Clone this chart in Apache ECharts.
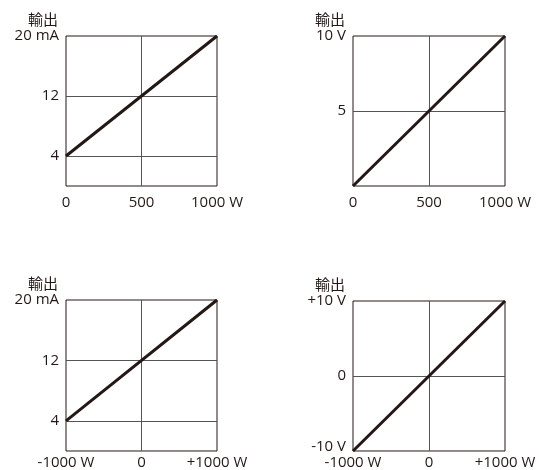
<!DOCTYPE html>
<html>
<head>
<meta charset="utf-8">
<script src="https://cdn.jsdelivr.net/npm/echarts@6/dist/echarts.min.js"></script>
<style>html,body{margin:0;padding:0;background:#fff}#c{width:539px;height:470px}</style>
</head>
<body>
<div id="c"></div>
<script>
// ---- data ----
var yName = '輸出';
// chart 1: 0..1000 W -> 4..20 mA
var line1 = [[0, 4], [1000, 20]];
var xLabels1 = {0: '0', 500: '500', 1000: '1000 W'};
var yLabels1 = {4: '4', 12: '12', 20: '20 mA'};
var yGrid1 = [4, 12];
var xGrid1 = [500];
// chart 2: 0..1000 W -> 0..10 V
var line2 = [[0, 0], [1000, 10]];
var xLabels2 = {0: '0', 500: '500', 1000: '1000 W'};
var yLabels2 = {5: '5', 10: '10 V'};
var yGrid2 = [5];
var xGrid2 = [500];
// chart 3: -1000..+1000 W -> 4..20 mA
var line3 = [[-1000, 4], [1000, 20]];
var xLabels3 = {'-1000': '-1000 W', 0: '0', 1000: '+1000 W'};
var yLabels3 = {4: '4', 12: '12', 20: '20 mA'};
var yGrid3 = [4, 12];
var xGrid3 = [0];
// chart 4: -1000..+1000 W -> -10..+10 V
var line4 = [[-1000, -10], [1000, 10]];
var xLabels4 = {'-1000': '-1000 W', 0: '0', 1000: '+1000 W'};
var yLabels4 = {'-10': '{lo|-10 V}', 0: '0', 10: '+10 V'};
var yGrid4 = [0];
var xGrid4 = [0];

var FONT = "'Open Sans', 'Noto Sans CJK JP', sans-serif";
var TXT = '#231815';
var FS = 15;

var panels = [
  {grid: {left: 66, top: 36, width: 151, height: 150}, x: [0, 1000, 500], y: [0, 20, 4], line: line1, xl: xLabels1, yl: yLabels1, yg: yGrid1, xg: xGrid1, xm: 9},
  {grid: {left: 353, top: 36, width: 152, height: 150}, x: [0, 1000, 500], y: [0, 10, 5], line: line2, xl: xLabels2, yl: yLabels2, yg: yGrid2, xg: xGrid2, xm: 9},
  {grid: {left: 66, top: 300, width: 151, height: 151}, x: [-1000, 1000, 1000], y: [0, 20, 4], line: line3, xl: xLabels3, yl: yLabels3, yg: yGrid3, xg: xGrid3, xm: 4},
  {grid: {left: 353, top: 301, width: 152, height: 150}, x: [-1000, 1000, 1000], y: [-10, 10, 10], line: line4, xl: xLabels4, yl: yLabels4, yg: yGrid4, xg: xGrid4, xm: 4}
];

var option = {
  animation: false,
  backgroundColor: '#fff',
  textStyle: {fontFamily: FONT},
  grid: [], xAxis: [], yAxis: [], series: []
};

function lookup(m) { return function (v) { return m[v] !== undefined ? m[v] : ''; }; }

panels.forEach(function (p, i) {
  option.grid.push(Object.assign({show: true, borderColor: TXT, borderWidth: 1, backgroundColor: 'transparent'}, p.grid));
  option.xAxis.push({
    type: 'value', gridIndex: i, min: p.x[0], max: p.x[1], interval: p.x[2], position: 'bottom',
    axisLine: {show: false, onZero: false}, axisTick: {show: false}, splitLine: {show: false},
    axisLabel: {margin: p.xm, fontSize: FS, color: TXT, fontFamily: FONT, formatter: lookup(p.xl)}
  });
  option.yAxis.push({
    type: 'value', gridIndex: i, min: p.y[0], max: p.y[1], interval: p.y[2], position: 'left',
    name: yName, nameLocation: 'end', nameGap: 6,
    nameTextStyle: {fontSize: FS, color: TXT, fontFamily: FONT, align: 'right', verticalAlign: 'bottom', padding: [0, 8, 0, 0]},
    axisLine: {show: false, onZero: false}, axisTick: {show: false}, splitLine: {show: false},
    axisLabel: {margin: 7, fontSize: FS, color: TXT, fontFamily: FONT, formatter: lookup(p.yl),
      rich: {lo: {fontSize: FS, color: TXT, fontFamily: FONT, padding: [0, 0, 8, 0]}}}
  });
  var gridMarks = p.yg.map(function (v) { return {yAxis: v}; }).concat(p.xg.map(function (v) { return {xAxis: v}; }));
  option.series.push({
    type: 'line', xAxisIndex: i, yAxisIndex: i, data: [], z: 1,
    markLine: {silent: true, symbol: 'none', animation: false, label: {show: false},
      lineStyle: {color: '#555', width: 1, type: 'solid'}, data: gridMarks}
  });
  option.series.push({
    type: 'line', xAxisIndex: i, yAxisIndex: i, data: p.line, z: 5,
    symbol: 'none', lineStyle: {color: TXT, width: 3}
  });
});

var chart = echarts.init(document.getElementById('c'), null, {renderer: 'canvas'});
chart.setOption(option);
</script>
</body>
</html>
